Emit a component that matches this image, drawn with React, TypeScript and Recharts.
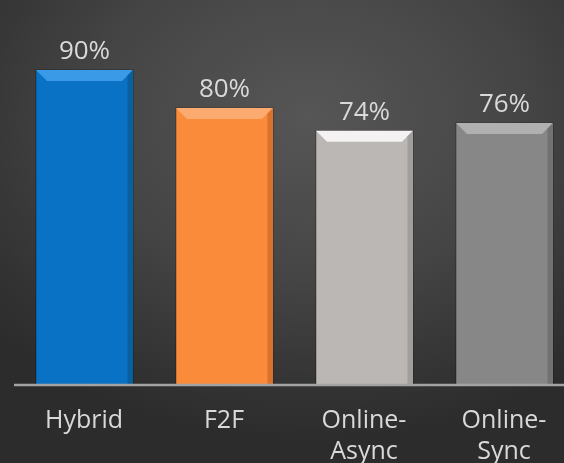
import React from 'react';
import { BarChart, Bar, XAxis, YAxis } from 'recharts';

const categories = ['Hybrid', 'F2F', 'Online-Async', 'Online-Sync'];
const values = [90, 80, 74, 76];
const valueLabels = ['90%', '80%', '74%', '76%'];
const tickLines: string[][] = [['Hybrid'], ['F2F'], ['Online-', 'Async'], ['Online-', 'Sync']];

const barMain = ['#0a72c4', '#f98b3b', '#bbb7b5', '#878787'];
const barTop = ['#3a9ae8', '#fbab70', '#f4f2f2', '#b0b0b0'];
const barSide = ['#07609f', '#d8722c', '#a29e9c', '#727272'];

const data = categories.map((c, i) => ({ name: c, value: values[i], idx: i }));

const FONT = '"Open Sans", sans-serif';

const BevelBar = (props: any) => {
  const { x, y, width, height, index } = props;
  const b = 11;
  const i = index ?? 0;
  return (
    <g>
      <rect x={x} y={y} width={width} height={height} fill={barMain[i]} stroke="rgba(0,0,0,0.35)" strokeWidth={1} />
      <polygon points={`${x},${y} ${x + width},${y} ${x + width - b},${y + b} ${x + b},${y + b}`} fill={barTop[i]} />
      <polygon points={`${x + width},${y} ${x + width - b / 2},${y + b / 2} ${x + width - b / 2},${y + height} ${x + width},${y + height}`} fill={barSide[i]} />
      <text x={x + width / 2} y={y - 11} textAnchor="middle" fill="#d9d9d9" fontSize={26} fontFamily={FONT}>
        {valueLabels[i]}
      </text>
    </g>
  );
};

const CatTick = (props: any) => {
  const { x, y, index } = props;
  const lines = tickLines[index] || [];
  return (
    <text x={x} y={y + 43} textAnchor="middle" fill="#d9d9d9" fontSize={25} fontFamily={FONT}>
      {lines.map((l, k) => (
        <tspan key={k} x={x} dy={k === 0 ? 0 : 31}>
          {l}
        </tspan>
      ))}
    </text>
  );
};

export default function App() {
  return (
    <div
      style={{
        position: 'fixed',
        left: 0,
        top: 0,
        width: 564,
        height: 463,
        overflow: 'hidden',
        background: 'radial-gradient(ellipse 75% 70% at 55% 25%, #565656 0%, #454545 50%, #333333 85%, #2c2c2c 100%)',
      }}
    >
      <BarChart width={574} height={463} data={data} margin={{ top: 32, right: 0, bottom: 48, left: 14 }}>
        <YAxis hide domain={[7, 100]} />
        <XAxis
          dataKey="name"
          height={30}
          axisLine={{ stroke: '#a3a3a3', strokeWidth: 2.5 }}
          tickLine={false}
          tickSize={0}
          tickMargin={0}
          interval={0}
          tick={<CatTick />}
        />
        <Bar dataKey="value" barSize={97} isAnimationActive={false} shape={<BevelBar />} />
      </BarChart>
    </div>
  );
}
